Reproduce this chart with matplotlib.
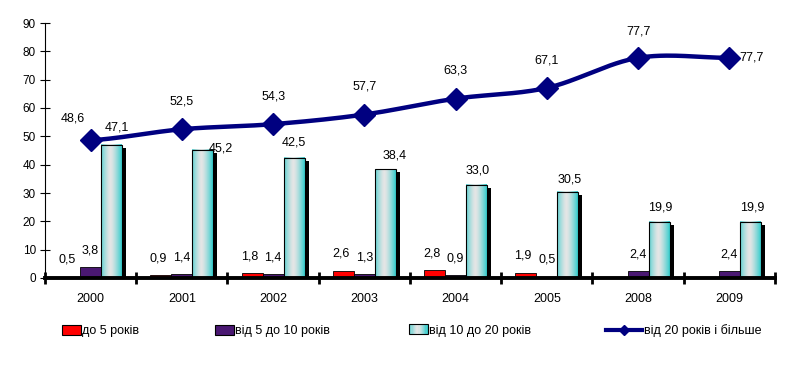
import numpy as np
import matplotlib
matplotlib.use("Agg")
import matplotlib.pyplot as plt
from matplotlib.patches import Rectangle, Patch
from matplotlib.lines import Line2D
from matplotlib.legend_handler import HandlerBase

plt.rcParams['font.family'] = ['Liberation Sans', 'DejaVu Sans']
plt.rcParams['font.size'] = 9

years = ['2000', '2001', '2002', '2003', '2004', '2005', '2008', '2009']
under5 = [0.5, 0.9, 1.8, 2.6, 2.8, 1.9, np.nan, np.nan]
from5to10 = [3.8, 1.4, 1.4, 1.3, 0.9, 0.5, 2.4, 2.4]
from10to20 = [47.1, 45.2, 42.5, 38.4, 33.0, 30.5, 19.9, 19.9]
over20 = [48.6, 52.5, 54.3, 57.7, 63.3, 67.1, 77.7, 77.7]
series_names = ['до 5 років', 'від 5 до 10 років', 'від 10 до 20 років', 'від 20 років і більше']

RED = '#FF0000'
PURPLE = '#4A1872'
NAVY = '#000080'
CYAN = np.array([0.20, 0.80, 0.80])
GRAY = np.array([0.90, 0.90, 0.90])


def fmt(v):
    return f'{v:.1f}'.replace('.', ',')


def gradient(n=64):
    t = np.linspace(0, 1, n)
    w = (np.abs(t - 0.45) / 0.55) ** 1.4
    return (GRAY[None, :] * (1 - w[:, None]) + CYAN[None, :] * w[:, None])[None, :, :]


def catmull(x, y, n=30):
    xs, ys = [], []
    m = len(x)
    for i in range(m - 1):
        p0 = y[max(i - 1, 0)]
        p1, p2 = y[i], y[i + 1]
        p3 = y[min(i + 2, m - 1)]
        t = np.linspace(0, 1, n)
        seg = 0.5 * ((2 * p1) + (-p0 + p2) * t + (2 * p0 - 5 * p1 + 4 * p2 - p3) * t ** 2
                     + (-p0 + 3 * p1 - 3 * p2 + p3) * t ** 3)
        xs.append(x[i] + t * (x[i + 1] - x[i]))
        ys.append(seg)
    return np.concatenate(xs), np.concatenate(ys)


class GradientHandler(HandlerBase):
    def create_artists(self, legend, orig_handle, xd, yd, w, h, fontsize, trans):
        arts = []
        g = gradient(16)[0]
        for k in range(16):
            arts.append(Rectangle((xd + w * k / 16, yd), w / 16 + 0.3, h, facecolor=g[k],
                                  edgecolor='none', transform=trans))
        arts.append(Rectangle((xd, yd), w, h, facecolor='none', edgecolor='black', lw=0.8,
                              transform=trans))
        return arts


fig = plt.figure(figsize=(8.12, 3.76), dpi=100)
ax = fig.add_axes([45 / 812, 1 - 278 / 376, 730 / 812, 255 / 376])

x = np.arange(len(years))
bw = 0.23

ax.bar(x - bw, under5, bw, color=RED, edgecolor='black', linewidth=0.6, zorder=3)
ax.bar(x, from5to10, bw, color=PURPLE, edgecolor='black', linewidth=0.6, zorder=3)

# cyan bars with shadow and gradient
sh = 4 / 91.25
for xi, h in zip(x, from10to20):
    x0 = xi + bw / 2
    ax.add_patch(Rectangle((x0 + sh, 0), bw, h - 1.1, facecolor='black', edgecolor='none', zorder=2))
    ax.imshow(gradient(), extent=[x0, x0 + bw, 0, h], aspect='auto', zorder=3, interpolation='bilinear')
    ax.add_patch(Rectangle((x0, 0), bw, h, facecolor='none', edgecolor='black', lw=0.8, zorder=4))

# smooth line
lx, ly = catmull(x, over20)
ax.plot(lx, ly, color=NAVY, lw=3.2, zorder=5, solid_capstyle='round')
ax.plot(x, over20, 'D', color=NAVY, markersize=11, zorder=6)

# labels
for xi, v in zip(x, under5):
    if not np.isnan(v):
        ax.annotate(fmt(v), (xi - bw, v), xytext=(-2, 12), textcoords='offset points',
                    ha='center', va='center')
for xi, v in zip(x, from5to10):
    ax.annotate(fmt(v), (xi, v), xytext=(0, 12), textcoords='offset points',
                ha='center', va='center')
cyan_off = [(4, 12), (13, 1), (0, 11), (7, 10), (1, 10), (1, 9), (1, 10), (1, 10)]
for xi, v, off in zip(x, from10to20, cyan_off):
    ax.annotate(fmt(v), (xi + bw, v), xytext=off, textcoords='offset points',
                ha='center', va='center')
line_off = [(-13, 16), (0, 20), (0, 20), (0, 20), (0, 20), (0, 20), (0, 19), (16, 0)]
for xi, v, off in zip(x, over20, line_off):
    ax.annotate(fmt(v), (xi, v), xytext=off, textcoords='offset points',
                ha='center', va='center')

ax.set_xlim(-0.5, len(years) - 0.5)
ax.set_ylim(0, 90)
ax.set_yticks(range(0, 91, 10))
ax.set_xticks(x)
ax.set_xticklabels(years)
ax.set_xticks(np.arange(-0.5, len(years), 1), minor=True)
ax.tick_params(axis='x', which='major', length=0, pad=11)
ax.tick_params(axis='x', which='minor', length=8, width=2, direction='inout')
ax.tick_params(axis='y', length=7, width=0.8, pad=3, direction='inout', labelsize=8.5)
ax.spines['top'].set_visible(False)
ax.spines['right'].set_visible(False)
ax.spines['bottom'].set_linewidth(2.8)
ax.spines['bottom'].set_zorder(7)
ax.spines['left'].set_linewidth(0.8)

# legend items placed individually
handles = [
    Patch(facecolor=RED, edgecolor='black', lw=0.8),
    Patch(facecolor=PURPLE, edgecolor='black', lw=0.8),
    Patch(facecolor='none'),
    Line2D([], [], color=NAVY, lw=3, marker='D', markersize=5),
]
leg_x = [62, 215, 409, 606]
leg_len = [1.5, 1.5, 1.5, 2.9]
for i, (hd, name) in enumerate(zip(handles, series_names)):
    kw = {}
    if i == 2:
        kw['handler_map'] = {hd: GradientHandler()}
    fig.legend([hd], [name], loc='center left', bbox_to_anchor=(leg_x[i] / 812, 1 - 331 / 376),
               frameon=False, handlelength=leg_len[i], handleheight=0.8, handletextpad=0.12,
               borderpad=0, borderaxespad=0, fontsize=9, **kw)

fig.savefig('out.png', dpi=100)
